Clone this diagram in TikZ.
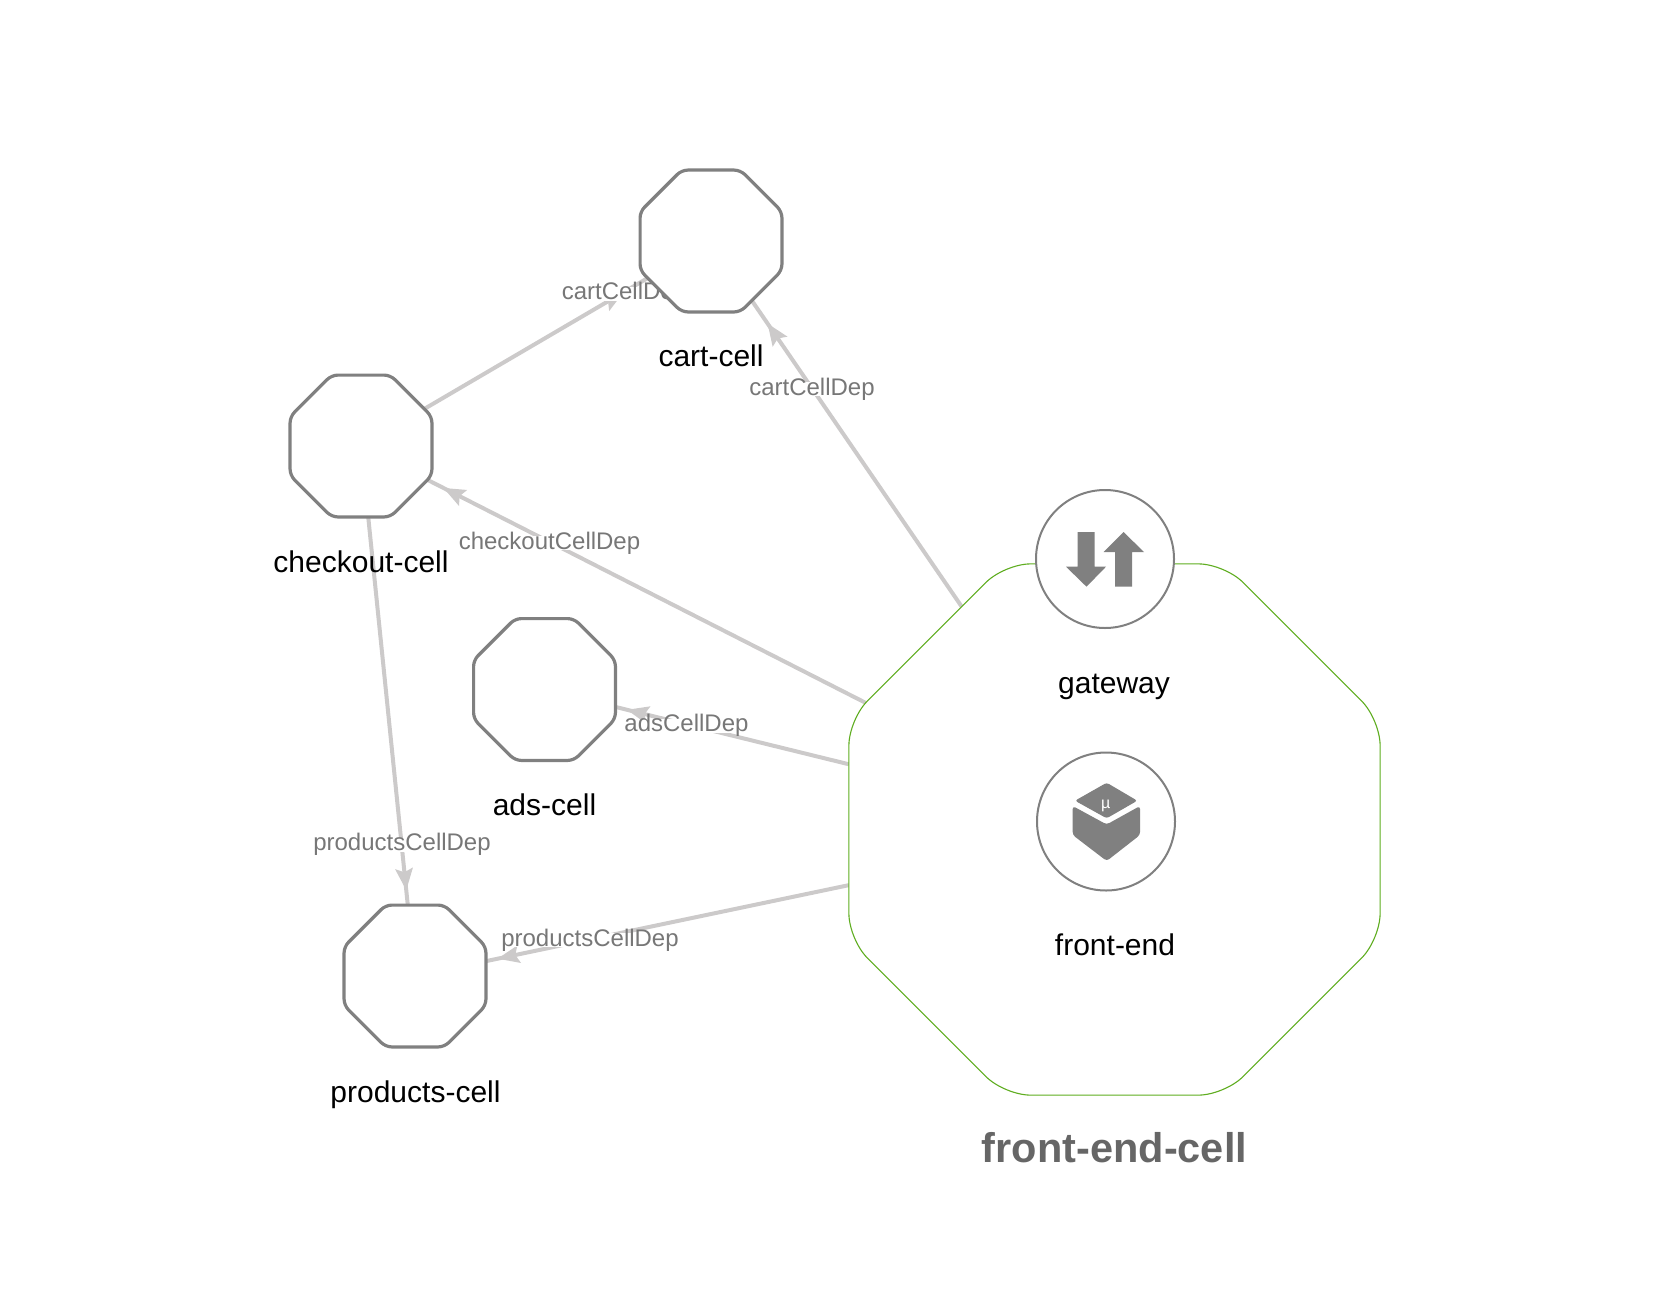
\documentclass[tikz,border=0pt]{standalone}
\usepackage{fontspec}
\setmainfont{Liberation Sans}
\usetikzlibrary{shapes.geometric,arrows.meta,decorations.markings}
\pgfdeclarelayer{edges}
\pgfsetlayers{edges,main}
\definecolor{edgecol}{HTML}{CCCACA}
\definecolor{strokecol}{HTML}{808080}
\definecolor{labelcol}{HTML}{777777}
\definecolor{cellgreen}{HTML}{5FAD20}
\tikzset{
  x=1pt,y=-1pt,
  cellocta/.style={regular polygon,regular polygon sides=8,
    minimum size=153.5pt,inner sep=0pt,outer sep=0pt,draw=strokecol,line width=3.2pt,fill=white,rounded corners=6pt},
  bigocta/.style={regular polygon,regular polygon sides=8,
    minimum size=575pt,inner sep=0pt,outer sep=0pt,draw=cellgreen,line width=1.1pt,fill=white,rounded corners=26pt},
  compcircle/.style={circle,minimum size=138pt,inner sep=0pt,outer sep=0pt,draw=strokecol,line width=2pt,fill=white},
  nodelabel/.style={anchor=base,inner sep=0pt,text=black,font=\fontsize{30}{30}\selectfont},
  celltitle/.style={anchor=base,inner sep=0pt,text=black!60!white,font=\fontsize{41.5}{42}\selectfont\bfseries},
  edgelabel/.style={anchor=base,inner xsep=0pt,inner ysep=0pt,text height=13pt,text depth=1pt,fill=white,text=labelcol,font=\fontsize{24}{24}\selectfont},
  depedge/.style={draw=edgecol,line width=4pt,decoration={markings,
    mark=at position -#1 with {\arrow{Stealth[length=22pt,width=18pt,inset=4pt,fill=edgecol,line width=0pt]}}},
    postaction={decorate}},
  iconfill/.style={fill=strokecol,draw=none},
}
\begin{document}
\begin{tikzpicture}
\path[use as bounding box] (0,0) rectangle (1660,1296);
% cells
\node[bigocta] (frontendcell) at (1114.5,829.5) {};
\node[cellocta] (cart) at (711,241) {};
\node[cellocta] (checkout) at (361,446) {};
\node[cellocta] (ads) at (544.5,689.5) {};
\node[cellocta] (products) at (415,976) {};
% components
\node[compcircle] (gateway) at (1105,559) {};
\node[compcircle] (frontend) at (1106,821.5) {};
% edges
\begin{pgfonlayer}{edges}
\draw[depedge=28pt] (frontendcell) -- (cart);
\draw[depedge=28pt] (checkout) -- (cart);
\draw[depedge=18pt] (frontendcell) -- (checkout);
\draw[depedge=12pt] (frontendcell) -- (ads);
\draw[depedge=12pt] (frontendcell) -- (products);
\draw[depedge=15pt] (checkout) -- (products);
\node[edgelabel] (l1) at (624.5,299.5) {cartCellDep};
\node[edgelabel] (l2) at (812,395) {cartCellDep};
\node[edgelabel] (l3) at (549.5,549) {checkoutCellDep};
\node[edgelabel] (l4) at (686.5,731.5) {adsCellDep};
\node[edgelabel] (l5) at (402,850.5) {productsCellDep};
\node[edgelabel] (l6) at (590,946) {productsCellDep};
\end{pgfonlayer}
% labels
\node[nodelabel] (t1) at (711,366) {cart-cell};
\node[nodelabel] (t2) at (361,572) {checkout-cell};
\node[nodelabel] (t3) at (544.5,815.5) {ads-cell};
\node[nodelabel] (t4) at (415.5,1102) {products-cell};
\node[nodelabel] (t5) at (1114,693) {gateway};
\node[nodelabel] (t6) at (1115,955.5) {front-end};
\node[celltitle] (t7) at (1114.5,1162) {front-end-cell};
% gateway icon
\fill[iconfill] (1077.7,532) -- (1094.7,532) -- (1094.7,566.7) -- (1106,566.7) -- (1086.5,586.7) -- (1066,566.7) -- (1077.7,566.7) -- cycle;
\fill[iconfill] (1115,586.7) -- (1132,586.7) -- (1132,552) -- (1144,552) -- (1123.5,532) -- (1103.5,552) -- (1115,552) -- cycle;
% micro-service cube icon
\fill[iconfill,rounded corners=2.5pt] (1106.7,782.7) -- (1137.3,800.7) -- (1106.7,818.3) -- (1075,800.7) -- cycle;
\fill[iconfill,rounded corners=3pt] (1072.7,806) -- (1106.7,824.5) -- (1140,806) -- (1140,835) -- (1106.7,861) -- (1072.7,835) -- cycle;
\node[inner sep=0pt,text=white,font=\fontsize{16}{16}\selectfont] (mu) at (1105.7,805.5) {µ};
\end{tikzpicture}
\end{document}
